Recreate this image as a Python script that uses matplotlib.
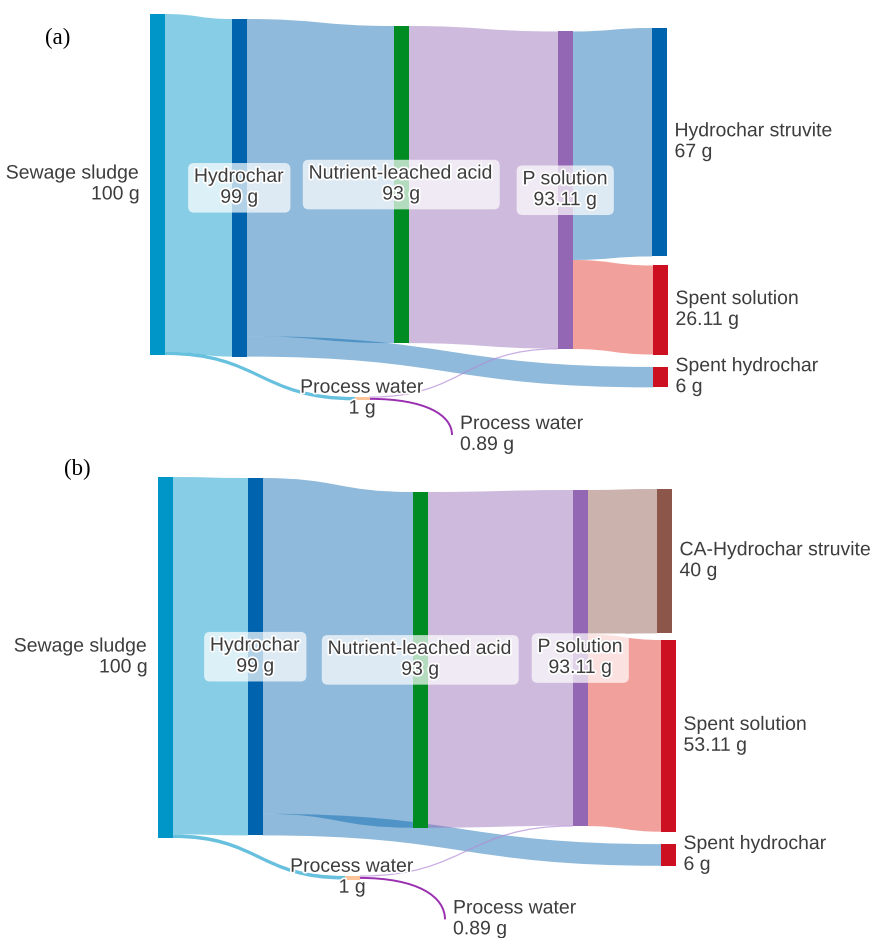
import numpy as np
import matplotlib
matplotlib.use('Agg')
import matplotlib.pyplot as plt
from matplotlib.path import Path
from matplotlib.patches import PathPatch, Rectangle
import matplotlib.patheffects as pe

plt.rcParams['font.family'] = ['Liberation Sans', 'DejaVu Sans']

W, H = 874, 938

# ---------------- data ----------------
names_a = ["Sewage sludge", "Hydrochar", "Nutrient-leached acid", "P solution",
           "Process water", "Hydrochar struvite", "Spent solution",
           "Spent hydrochar", "Process water"]
names_b = ["Sewage sludge", "Hydrochar", "Nutrient-leached acid", "P solution",
           "Process water", "CA-Hydrochar struvite", "Spent solution",
           "Spent hydrochar", "Process water"]
values_a = [100, 99, 93, 93.11, 1, 67, 26.11, 6, 0.89]
values_b = [100, 99, 93, 93.11, 1, 40, 53.11, 6, 0.89]

link_src = [0, 0, 1, 1, 2, 4, 4, 3, 3]
link_tgt = [1, 4, 2, 7, 3, 3, 8, 5, 6]
flows_a = [99, 1, 93, 6, 93, 0.11, 0.89, 67, 26.11]
flows_b = [99, 1, 93, 6, 93, 0.11, 0.89, 40, 53.11]

# ---------------- layout / style ----------------
# node left edge (px) and node top (g below the panel origin)
node_x_a = [150, 232, 394, 558, 355, 652, 653, 653, 452]
node_top_a = [0, 1.47, 3.52, 5.13, 112.3, 4.1, 73.75, 103.5, 123.0]
node_x_b = [158, 248, 413, 573, 345, 657, 661, 661, 445]
node_top_b = [0, 0.28, 4.16, 3.6, 110.5, 3.32, 45.15, 101.7, 122.1]
node_w = [14.5] * 8 + [0]

node_col_a = ['#0096c8', '#0063ad', '#008c23', '#9467b5', '#fdc49a',
              '#0063ad', '#cc1022', '#cc1022', 'none']
node_col_b = ['#0096c8', '#0063ad', '#008c23', '#9467b5', '#fdc49a',
              '#8c564b', '#cc1022', '#cc1022', 'none']
label_mode = ['left', 'box', 'box', 'box', 'center', 'right', 'right', 'right', 'right']

link_col_a = [('#0096c8', .47), ('#0096c8', .6), ('#0063ad', .44), ('#0063ad', .44),
              ('#9467b5', .45), ('#b48ad6', .7), ('#9a2fb0', 1.0), ('#0063ad', .44),
              ('#e42c23', .45)]
link_col_b = link_col_a[:7] + [('#8c564b', .45), ('#e42c23', .45)]
link_style = ['band', 'band', 'band', 'band', 'band', 'line', 'arc', 'band', 'band']

txt_col = '#3d3d3d'
fs = 14
lsp = 1.3
glow = [pe.withStroke(linewidth=2.5, foreground='white')]


def band(ax, x0, y0a, y0b, x1, y1a, y1b, color, alpha):
    xm = (x0 + x1) / 2
    verts = [(x0, y0a), (xm, y0a), (xm, y1a), (x1, y1a),
             (x1, y1b), (xm, y1b), (xm, y0b), (x0, y0b), (x0, y0a)]
    codes = [Path.MOVETO, Path.CURVE4, Path.CURVE4, Path.CURVE4,
             Path.LINETO, Path.CURVE4, Path.CURVE4, Path.CURVE4, Path.CLOSEPOLY]
    ax.add_patch(PathPatch(Path(verts, codes), fc=color, ec='none', alpha=alpha,
                           clip_on=False, zorder=1))


def curve(ax, p0, p1, p2, p3, color, alpha, lw):
    codes = [Path.MOVETO, Path.CURVE4, Path.CURVE4, Path.CURVE4]
    ax.add_patch(PathPatch(Path([p0, p1, p2, p3], codes), fc='none', ec=color,
                           alpha=alpha, lw=lw, clip_on=False, zorder=1))


def draw_panel(ax, names, values, flows, node_x, node_top, node_col, link_col):
    out_off = [0.0] * len(names)
    in_off = [0.0] * len(names)
    # links first, nodes on top
    for k in range(len(flows)):
        s, t, v = link_src[k], link_tgt[k], flows[k]
        x0 = node_x[s] + node_w[s]
        x1 = node_x[t]
        y0a = node_top[s] + out_off[s]
        y1a = node_top[t] + in_off[t]
        out_off[s] += v
        in_off[t] += v
        col, al = link_col[k]
        if link_style[k] == 'band':
            band(ax, x0, y0a, y0a + v, x1, y1a, y1a + v, col, al)
        elif link_style[k] == 'line':
            xm = (x0 + x1) / 2
            curve(ax, (x0, y0a + v / 2), (xm, y0a + v / 2), (xm, y1a + v / 2),
                  (x1, y1a + v / 2), col, al, 0.9)
        else:
            ya, yb = y0a + v / 2, node_top[t] + values[t] / 2
            curve(ax, (x0, ya), (x0 + 0.68 * (x1 - x0), ya),
                  (x1, ya + 0.45 * (yb - ya)), (x1, yb), col, al, 1.4)

    for i, name in enumerate(names):
        ax.add_patch(Rectangle((node_x[i], node_top[i]), node_w[i], values[i],
                               fc=node_col[i], ec='none', clip_on=False, zorder=2))
        label = f"{name}\n{values[i]:g} g"
        yc = node_top[i] + values[i] / 2
        mode = label_mode[i]
        kw = dict(va='center', fontsize=fs, color=txt_col, linespacing=lsp,
                  path_effects=glow, zorder=4)
        if mode == 'left':
            ax.text(node_x[i] - 10, yc, label, ha='right', multialignment='right', **kw)
        elif mode == 'right':
            ax.text(node_x[i] + node_w[i] + 8, yc, label, ha='left',
                    multialignment='left', **kw)
        elif mode == 'center':
            ax.text(node_x[i] + node_w[i] / 2, yc, label, ha='center',
                    multialignment='center', **kw)
        else:
            ax.text(node_x[i] + node_w[i] / 2, yc, label, ha='center',
                    multialignment='center',
                    bbox=dict(boxstyle='round,pad=0.3,rounding_size=0.3',
                              fc='white', ec='none', alpha=0.7), **kw)


fig = plt.figure(figsize=(W / 100, H / 100), dpi=100)

# panel (a): pixel rows 0-460, origin at row 14, 3.41 px per g
ax_a = fig.add_axes([0, 1 - 460 / H, 1, 460 / H])
ax_a.set_xlim(0, W)
ax_a.set_ylim((460 - 14) / 3.41, (0 - 14) / 3.41)
ax_a.set_axis_off()
draw_panel(ax_a, names_a, values_a, flows_a, node_x_a, node_top_a, node_col_a, link_col_a)

# panel (b): pixel rows 460-938, origin at row 477, 3.61 px per g
ax_b = fig.add_axes([0, 0, 1, 478 / H])
ax_b.set_xlim(0, W)
ax_b.set_ylim((938 - 477) / 3.61, (460 - 477) / 3.61)
ax_b.set_axis_off()
draw_panel(ax_b, names_b, values_b, flows_b, node_x_b, node_top_b, node_col_b, link_col_b)

fig.text(58 / W, 1 - 38 / H, '(a)', family=['Liberation Serif', 'DejaVu Serif'],
         fontsize=16.5, ha='center', va='center', color='black')
fig.text(77 / W, 1 - 469 / H, '(b)', family=['Liberation Serif', 'DejaVu Serif'],
         fontsize=16.5, ha='center', va='center', color='black')

fig.savefig('out.png', dpi=100)
